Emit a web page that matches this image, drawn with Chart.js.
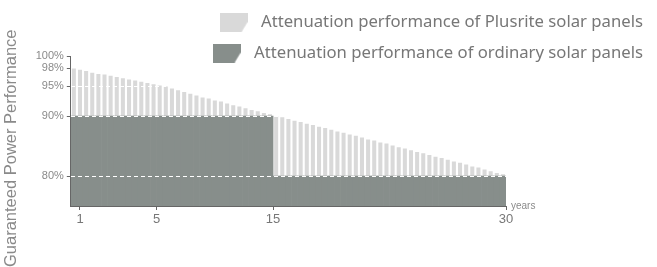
<!DOCTYPE html>
<html>
<head>
<meta charset="utf-8">
<script src="https://cdn.jsdelivr.net/npm/chart.js@4/dist/chart.umd.min.js"></script>
<style>
html,body{margin:0;padding:0;background:#fff;overflow:hidden;}
#wrap{width:657px;height:267px;}
</style>
</head>
<body>
<div id="wrap"><canvas id="c" width="657" height="267"></canvas></div>
<script>
// ---- data ----
const seriesNames = ['Attenuation performance of Plusrite solar panels', 'Attenuation performance of ordinary solar panels'];
const plusrite = [97.9,97.7,97.5,97.2,97.0,96.9,96.7,96.5,96.3,96.1,
  95.9,95.7,95.5,95.3,95.1,94.9,94.6,94.3,94.0,93.7,
  93.4,93.1,92.9,92.6,92.4,92.1,91.8,91.6,91.3,91.0,
  90.8,90.5,90.3,90.0,89.8,89.5,89.2,89.0,88.7,88.5,
  88.2,88.0,87.7,87.4,87.2,86.9,86.7,86.4,86.1,85.9,
  85.6,85.4,85.1,84.8,84.6,84.3,84.0,83.8,83.5,83.2,
  83.0,82.7,82.4,82.2,81.9,81.6,81.4,81.1,80.8,80.5,80.3];
const ordinary = [90,90,90,90,90,90,90,90,90,90,
  90,90,90,90,90,90,90,90,90,90,
  90,90,90,90,90,90,90,90,90,90,
  90,90,90,80,80,80,80,80,80,80,
  80,80,80,80,80,80,80,80,80,80,
  80,80,80,80,80,80,80,80,80,80,
  80,80,80,80,80,80,80,80,80,80,80];
const slots = plusrite.map((_, i) => String(i));
const yTickValues = [80, 90, 95, 98, 100];
const yearLabels = ['1', '5', '15', '30'];
const yearSlots = [3, 28, 66, 142]; // index on the half-slot boundary grid
const unitLabel = 'years';
const axisTitle = 'Guaranteed Power Performance';

// ---- styling ----
const LIGHT = '#d9d9d9';
const DARK = '#878e8b';
const AXIS = '#666666';
const TXT = '#8a8a8a';

const boundaryLabels = Array.from({length: slots.length * 2 + 1}, () => '');
yearSlots.forEach((s, i) => { boundaryLabels[s] = yearLabels[i]; });

function makeIcon(color) {
  const c = document.createElement('canvas');
  c.width = 28; c.height = 19;
  const g = c.getContext('2d');
  g.fillStyle = color;
  g.beginPath();
  g.moveTo(0, 0); g.lineTo(28, 0); g.lineTo(28, 9); g.lineTo(22, 19); g.lineTo(0, 19);
  g.closePath(); g.fill();
  return c;
}
const icons = [makeIcon(LIGHT), makeIcon(DARK)];

const legendOverlap = {
  id: 'legendOverlap',
  afterInit(chart) {
    const lg = chart.legend;
    const orig = lg.fit;
    lg.fit = function () { orig.call(this); this._fullH = this.height; this.height = 56; };
  },
  afterLayout(chart) {
    const lg = chart.legend;
    if (lg && lg._fullH) { lg.height = lg._fullH; lg.bottom = lg.top + lg._fullH; }
  }
};

Chart.defaults.font.family = "'Liberation Sans', Arial, sans-serif";

new Chart(document.getElementById('c'), {
  type: 'bar',
  data: {
    labels: slots,
    datasets: [
      { label: seriesNames[0], data: plusrite, backgroundColor: LIGHT, order: 2, grouped: false,
        barPercentage: 0.66, categoryPercentage: 1, borderWidth: 0 },
      { label: seriesNames[1], data: ordinary, backgroundColor: DARK, order: 1, grouped: false,
        barPercentage: 1, categoryPercentage: 1, borderWidth: 0 }
    ]
  },
  plugins: [legendOverlap],
  options: {
    responsive: false,
    animation: false,
    layout: { padding: 0 },
    plugins: {
      tooltip: { enabled: false },
      title: {
        display: true, text: axisTitle, position: 'left', align: 'start',
        color: TXT, font: { size: 16.5, weight: 'normal' }, padding: { top: 2, bottom: 0 }
      },
      legend: {
        position: 'top', align: 'end',
        labels: {
          usePointStyle: true, pointStyleWidth: 38, padding: 14,
          color: '#777777', font: { size: 16.7, family: "'Noto Sans', sans-serif" },
          sort: (a, b) => a.datasetIndex - b.datasetIndex,
          generateLabels(chart) {
            const items = Chart.defaults.plugins.legend.labels.generateLabels(chart);
            items.forEach(it => { it.pointStyle = icons[it.datasetIndex]; });
            return items;
          }
        }
      }
    },
    scales: {
      x: { display: false, offset: true, grid: { offset: true } },
      yrs: {
        type: 'category', labels: boundaryLabels, position: 'bottom', offset: false,
        afterFit: s => { s.height = 61; },
        ticks: { autoSkip: false, maxRotation: 0, minRotation: 0, color: '#777777', font: { size: 13 }, padding: 2 },
        grid: { drawOnChartArea: false, offset: false, tickLength: 4,
          tickColor: ctx => (ctx.tick && ctx.tick.label) ? AXIS : 'rgba(0,0,0,0)' },
        border: { display: true, color: AXIS, z: 2 }
      },
      y: {
        position: 'left', min: 75, max: 100,
        afterBuildTicks: s => { s.ticks = yTickValues.map(v => ({ value: v })); },
        afterFit: s => { s.width = 49; },
        ticks: { callback: v => v + '%', color: TXT, font: { size: 11 }, padding: 3 },
        grid: {
          z: 1,
          color: ctx => (ctx.tick && ctx.tick.value < 98) ? '#ffffff' : 'rgba(0,0,0,0)',
          tickColor: AXIS, tickLength: 4, lineWidth: 1
        },
        border: { display: true, color: AXIS, dash: [4, 3], z: 2 }
      },
      yu: {
        position: 'right', min: 75, max: 100,
        afterBuildTicks: s => { s.ticks = [{ value: 75 }]; },
        afterFit: s => { s.width = 151; },
        ticks: { callback: () => unitLabel, color: TXT, font: { size: 10 }, padding: 5 },
        grid: { display: false, drawTicks: false },
        border: { display: false }
      }
    }
  }
});
</script>
</body>
</html>
